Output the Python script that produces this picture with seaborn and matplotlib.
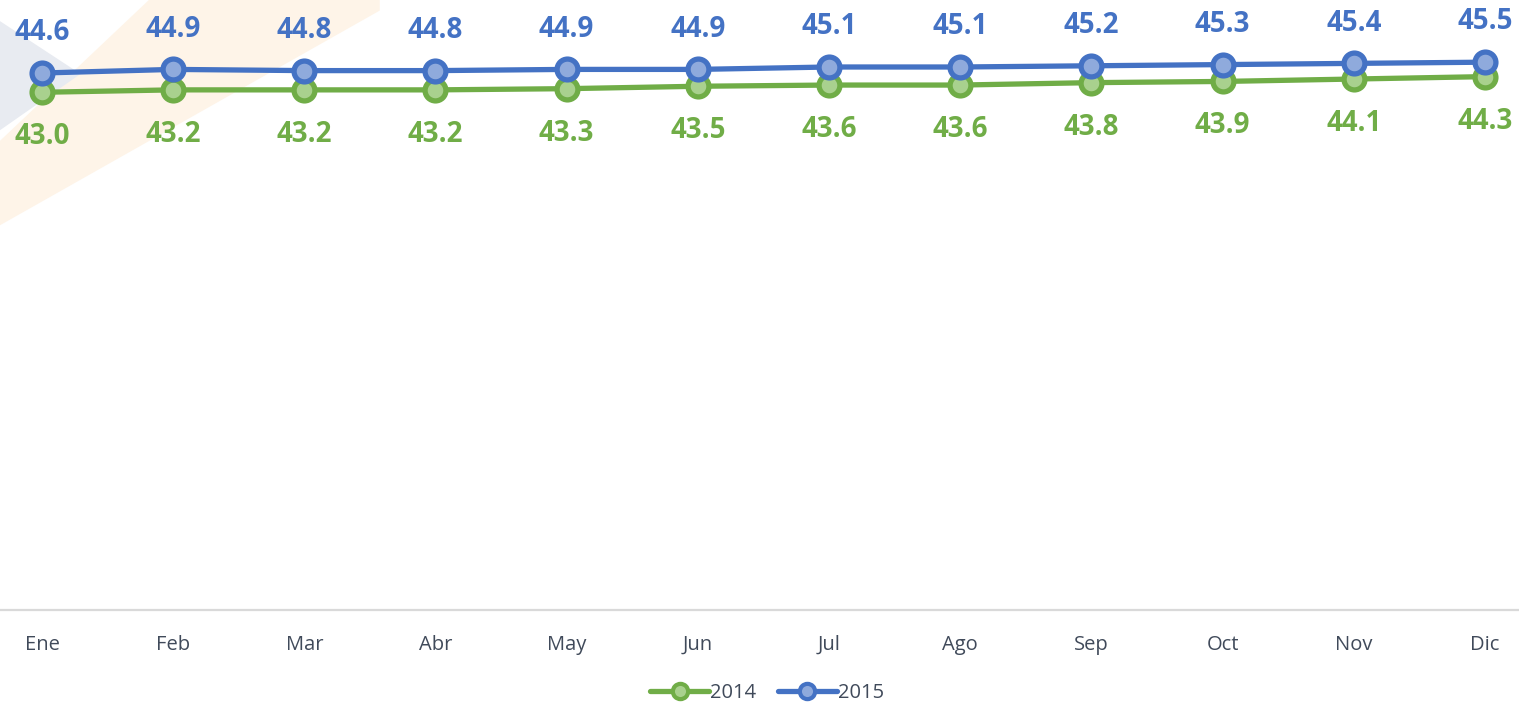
import matplotlib
matplotlib.use("Agg")
import matplotlib.pyplot as plt
from matplotlib.patches import Polygon
from matplotlib.lines import Line2D
import seaborn as sns
import pandas as pd

months = ["Ene", "Feb", "Mar", "Abr", "May", "Jun", "Jul", "Ago", "Sep", "Oct", "Nov", "Dic"]
vals_2014 = [43.0, 43.2, 43.2, 43.2, 43.3, 43.5, 43.6, 43.6, 43.8, 43.9, 44.1, 44.3]
vals_2015 = [44.6, 44.9, 44.8, 44.8, 44.9, 44.9, 45.1, 45.1, 45.2, 45.3, 45.4, 45.5]

green, green_face = "#70AD47", "#A9D18E"
blue, blue_face = "#4472C4", "#8FAADC"
text_col = "#404A5A"

sns.set_theme(style="white")
plt.rcParams["font.family"] = ["Open Sans", "DejaVu Sans"]

df = pd.DataFrame({"pos": range(len(months)), "2014": vals_2014, "2015": vals_2015})

fig = plt.figure(figsize=(15.19, 7.04), dpi=100)
ax = fig.add_axes([0, 1 - 610 / 704, 1, (610 - 8) / 704])
ax.patch.set_alpha(0)

# faint watermark in the background
fig.patches.append(Polygon([[0, 0.97], [0.053, 0.895], [0, 0.815]], closed=True,
                           transform=fig.transFigure, facecolor="#E8EBF1", edgecolor="none", zorder=-2))
fig.patches.append(Polygon([[0.098, 1.0], [0.25, 1.0], [0.25, 0.985], [0, 0.68], [0, 0.80]], closed=True,
                           transform=fig.transFigure, facecolor="#FEF4E8", edgecolor="none", zorder=-3))

series = [("2014", green, green_face), ("2015", blue, blue_face)]
for name, col, face in series:
    sns.lineplot(data=df, x="pos", y=name, ax=ax, color=col, linewidth=3.8,
                 marker="o", markersize=15, markerfacecolor=face,
                 markeredgecolor=col, markeredgewidth=3.8, zorder=3)

for i, (a, b) in enumerate(zip(vals_2014, vals_2015)):
    ax.annotate(f"{a:.1f}", (i, a), xytext=(0, -32), textcoords="offset points",
                ha="center", va="center", color=green, fontsize=20, fontweight="bold")
    ax.annotate(f"{b:.1f}", (i, b), xytext=(0, 29), textcoords="offset points",
                ha="center", va="center", color=blue, fontsize=20, fontweight="bold")

ax.set_ylim(0, 50)
ax.set_xlim(-0.32, 11.26)
ax.set_xticks(range(len(months)))
ax.set_xticklabels(months, fontsize=14.5, color=text_col)
ax.tick_params(axis="x", length=0, pad=18)
ax.set_yticks([])
ax.set_xlabel("")
ax.set_ylabel("")
for s in ["top", "left", "right"]:
    ax.spines[s].set_visible(False)
ax.spines["bottom"].set_color("#D9D9D9")
ax.spines["bottom"].set_linewidth(1.6)
ax.grid(False)
if ax.get_legend():
    ax.get_legend().remove()

handles = [Line2D([0], [0], color=c, linewidth=3.8, marker="o", markersize=11,
                  markerfacecolor=f, markeredgecolor=c, markeredgewidth=3) for _, c, f in series]
fig.legend(handles, [n for n, _, _ in series], loc="center", bbox_to_anchor=(0.505, 0.015),
           ncol=2, frameon=False, fontsize=14.5, labelcolor=text_col,
           handlelength=2.9, handletextpad=0.05, columnspacing=1.1)

fig.savefig("out.png", dpi=100)
